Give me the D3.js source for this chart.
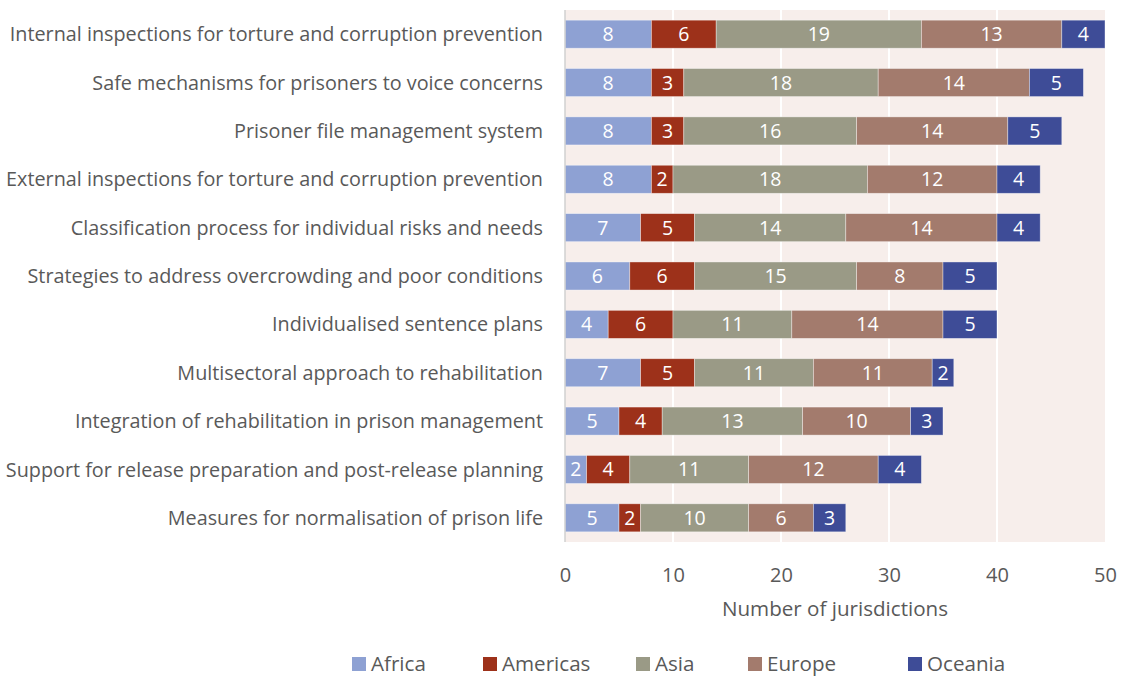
<!DOCTYPE html>
<html>
<head>
<meta charset="utf-8">
<script src="https://cdn.jsdelivr.net/npm/d3@7"></script>
<style>
  body { margin: 0; background: #fff; }
  text { font-family: "Open Sans", sans-serif; }
</style>
</head>
<body>
<svg></svg>
<script>
var width = 1124,
	height = 677;

var categories = [
	"Internal inspections for torture and corruption prevention",
	"Safe mechanisms for prisoners to voice concerns",
	"Prisoner file management system",
	"External inspections for torture and corruption prevention",
	"Classification process for individual risks and needs",
	"Strategies to address overcrowding and poor conditions",
	"Individualised sentence plans",
	"Multisectoral approach to rehabilitation",
	"Integration of rehabilitation in prison management",
	"Support for release preparation and post-release planning",
	"Measures for normalisation of prison life"
];
var regions = ["Africa", "Americas", "Asia", "Europe", "Oceania"];
var africa   = [8, 8, 8, 8, 7, 6, 4, 7, 5, 2, 5];
var americas = [6, 3, 3, 2, 5, 6, 6, 5, 4, 4, 2];
var asia     = [19, 18, 16, 18, 14, 15, 11, 11, 13, 11, 10];
var europe   = [13, 14, 14, 12, 14, 8, 14, 11, 10, 12, 6];
var oceania  = [4, 5, 5, 4, 4, 5, 5, 2, 3, 4, 3];
var xTicks = [0, 10, 20, 30, 40, 50];

var colors = ["#8ea1d3", "#9d311a", "#9a9a86", "#a37b6d", "#3e4c97"];

var rows = categories.map(function(c, i) {
	return {name: c, Africa: africa[i], Americas: americas[i], Asia: asia[i], Europe: europe[i], Oceania: oceania[i]};
});
var stacked = d3.stack().keys(regions)(rows);

var svg = d3.select("svg")
			.attr("width", width)
			.attr("height", height);

var plotLeft = 565, plotRight = 1105, plotTop = 10, plotBottom = 542;

var x = d3.scaleLinear().domain([0, 50]).range([plotLeft, plotRight]);
var y = d3.scaleBand().domain(categories).range([plotTop, plotBottom]).paddingInner(0.42).paddingOuter(0.21);
var color = d3.scaleOrdinal().domain(regions).range(colors);

// plot background
svg.append("rect")
	.attr("x", plotLeft).attr("y", plotTop)
	.attr("width", plotRight - plotLeft).attr("height", plotBottom - plotTop)
	.attr("fill", "#f7eeeb");

// gridlines
svg.append("g")
	.selectAll("line")
	.data(xTicks.slice(1, -1))
	.enter().append("line")
	.attr("x1", function(d) { return x(d); })
	.attr("x2", function(d) { return x(d); })
	.attr("y1", plotTop).attr("y2", plotBottom)
	.attr("stroke", "#ffffff")
	.attr("stroke-width", 2);

// bars
var groups = svg.append("g")
	.selectAll("g")
	.data(stacked)
	.enter().append("g")
	.attr("fill", function(d) { return color(d.key); });

groups.selectAll("rect")
	.data(function(d) { return d; })
	.enter().append("rect")
	.attr("x", function(d) { return x(d[0]); })
	.attr("y", function(d) { return y(d.data.name); })
	.attr("width", function(d) { return x(d[1]) - x(d[0]); })
	.attr("height", y.bandwidth())
	.attr("stroke", "#ffffff")
	.attr("stroke-opacity", 0.5)
	.attr("stroke-width", 0.75);

groups.selectAll("text")
	.data(function(d) { return d; })
	.enter().append("text")
	.attr("x", function(d) { return (x(d[0]) + x(d[1])) / 2; })
	.attr("y", function(d) { return y(d.data.name) + y.bandwidth() / 2; })
	.attr("dy", "0.36em")
	.attr("text-anchor", "middle")
	.attr("fill", "#ffffff")
	.style("font-size", "19.5px")
	.text(function(d) { return d[1] - d[0]; });

// y axis line
svg.append("line")
	.attr("x1", plotLeft).attr("x2", plotLeft)
	.attr("y1", plotTop).attr("y2", plotBottom)
	.attr("stroke", "#d0d0d0")
	.attr("stroke-width", 1.5);

// category labels
svg.append("g")
	.selectAll("text")
	.data(categories)
	.enter().append("text")
	.attr("x", 543)
	.attr("y", function(d) { return y(d) + y.bandwidth() / 2; })
	.attr("dy", "0.36em")
	.attr("text-anchor", "end")
	.attr("fill", "#595959")
	.style("font-size", "19.8px")
	.text(function(d) { return d; });

// x axis
var xAxis = d3.axisBottom(x).tickValues(xTicks).tickSize(0).tickPadding(0);
svg.append("g")
	.attr("transform", "translate(0," + 575 + ")")
	.call(xAxis)
	.call(function(g) { g.select(".domain").remove(); })
	.selectAll("text")
	.attr("fill", "#595959")
	.attr("dy", "0.36em")
	.style("font-size", "20px")
	.style("font-family", "'Open Sans', sans-serif");

svg.append("text")
	.attr("x", 835)
	.attr("y", 609)
	.attr("dy", "0.36em")
	.attr("text-anchor", "middle")
	.attr("fill", "#595959")
	.style("font-size", "20.6px")
	.text("Number of jurisdictions");

// legend
var legendX = [352, 483, 636, 748, 908];
var legend = svg.append("g")
	.selectAll("g")
	.data(regions)
	.enter().append("g")
	.attr("transform", function(d, i) { return "translate(" + legendX[i] + ",664)"; });

legend.append("rect")
	.attr("x", 0).attr("y", -7)
	.attr("width", 14).attr("height", 14)
	.attr("fill", function(d) { return color(d); });

legend.append("text")
	.attr("x", 19)
	.attr("y", 0)
	.attr("dy", "0.36em")
	.attr("fill", "#595959")
	.style("font-size", "20.6px")
	.text(function(d) { return d; });
</script>
</body>
</html>
